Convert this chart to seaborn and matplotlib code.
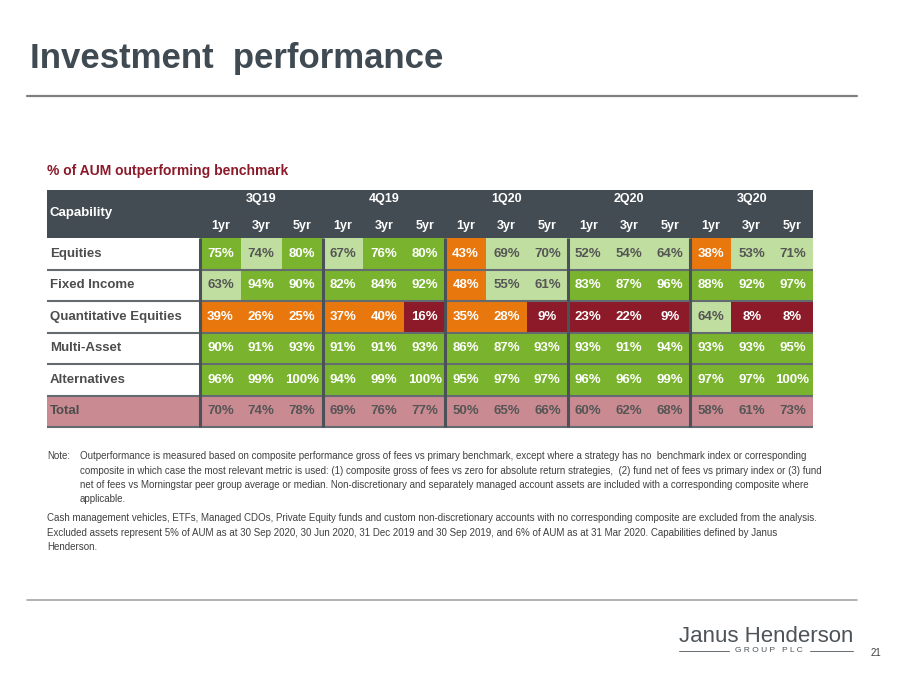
import numpy as np
import pandas as pd
import seaborn as sns
import matplotlib.pyplot as plt
from matplotlib.colors import ListedColormap
from matplotlib.patches import Rectangle

# data
quarters = ["3Q19", "4Q19", "1Q20", "2Q20", "3Q20"]
horizons = ["1yr", "3yr", "5yr"]
capabilities = ["Equities", "Fixed Income", "Quantitative Equities",
                "Multi-Asset", "Alternatives", "Total"]

equities = [75, 74, 80, 67, 76, 80, 43, 69, 70, 52, 54, 64, 38, 53, 71]
fixed_income = [63, 94, 90, 82, 84, 92, 48, 55, 61, 83, 87, 96, 88, 92, 97]
quant_equities = [39, 26, 25, 37, 40, 16, 35, 28, 9, 23, 22, 9, 64, 8, 8]
multi_asset = [90, 91, 93, 91, 91, 93, 86, 87, 93, 93, 91, 94, 93, 93, 95]
alternatives = [96, 99, 100, 94, 99, 100, 95, 97, 97, 96, 96, 99, 97, 97, 100]
total = [70, 74, 78, 69, 76, 77, 50, 65, 66, 60, 62, 68, 58, 61, 73]

RED, ORANGE, LIGHT, GREEN, PINK = "#8c1a28", "#e8770e", "#c0dea0", "#7ab42e", "#c98a92"
SLATE = "#434c53"
TXT = "#4d4d4d"

cols = pd.MultiIndex.from_product([quarters, horizons])
values = pd.DataFrame([equities, fixed_income, quant_equities, multi_asset,
                       alternatives, total], index=capabilities, columns=cols)


def band(v):
    if v < 25:
        return 0
    if v < 50:
        return 1
    if v < 75:
        return 2
    return 3


codes = values.apply(lambda c: c.map(band))
codes.loc["Total"] = 4
labels = values.astype(int).astype(str) + "%"

sns.set_theme(style="white")
plt.rcParams["font.family"] = ["Liberation Sans", "DejaVu Sans"]

W, H = 900, 675
fig = plt.figure(figsize=(9, 6.75), dpi=100)

# table geometry in pixels
x0, x1 = 47, 200          # capability column
x2 = 813                  # right edge of table
hy0, hy1 = 190, 238       # header
row_h = 31.5
y_bot = hy1 + row_h * len(capabilities)

ax = fig.add_axes([x1 / W, 1 - y_bot / H, (x2 - x1) / W, (y_bot - hy1) / H])
cmap = ListedColormap([RED, ORANGE, LIGHT, GREEN, PINK])
sns.heatmap(codes.values, ax=ax, cmap=cmap, vmin=-0.5, vmax=4.5, cbar=False,
            annot=labels.values, fmt="",
            annot_kws={"fontsize": 9.5, "fontweight": "bold"})
for t, c in zip(ax.texts, codes.values.ravel()):
    t.set_color("white" if c in (0, 1, 3) else "#555555")
ax.set_xticks([])
ax.set_yticks([])

# overlay in pixel coordinates
ov = fig.add_axes([0, 0, 1, 1], zorder=5)
ov.set_xlim(0, W)
ov.set_ylim(H, 0)
ov.axis("off")
ov.patch.set_visible(False)

# title and rules
ov.text(30, 68, "Investment  performance", fontsize=25, fontweight="bold",
        color="#3f4a52", va="baseline")
ov.plot([27, 857], [96, 96], color="#7f7f7f", lw=1.6)
ov.plot([27, 857], [600, 600], color="#a6a6a6", lw=1.2)
ov.text(47, 171, "% of AUM outperforming benchmark", fontsize=10,
        fontweight="bold", color="#8b1a2a", va="center")

# header block
ov.add_patch(Rectangle((x0, hy0), x2 - x0, hy1 - hy0, color=SLATE, lw=0))
ov.text(x0 + 3, 213, "Capability", fontsize=9.5, fontweight="bold",
        color="white", va="center")
cw = (x2 - x1) / len(cols)
for qi, q in enumerate(quarters):
    ov.text(x1 + cw * (3 * qi + 1.5), 199, q, fontsize=9, fontweight="bold",
            color="white", ha="center", va="center")
    for hi, h in enumerate(horizons):
        ov.text(x1 + cw * (3 * qi + hi + 0.5), 226, h, fontsize=9,
                fontweight="bold", color="white", ha="center", va="center")

# capability column
for i, name in enumerate(capabilities):
    top = hy1 + row_h * i
    fc = PINK if name == "Total" else "white"
    ov.add_patch(Rectangle((x0, top), x1 - x0, row_h, color=fc, lw=0))
    ov.text(x0 + 3, top + row_h / 2, name, fontsize=9.5, fontweight="bold",
            color=TXT, va="center")

# grid lines
for i in range(1, len(capabilities) + 1):
    y = hy1 + row_h * i
    ov.plot([x0, x2], [y, y], color="#646b70", lw=1.5, solid_capstyle="butt")
for qi in range(len(quarters)):
    x = x1 + cw * 3 * qi
    ov.plot([x, x], [hy1, y_bot], color="#4a5258", lw=2.2, solid_capstyle="butt")

# notes
note_kw = dict(fontsize=7, color="#404040", va="baseline")
ov.text(47, 459, "Note:", **note_kw)
note_lines = [
    "Outperformance is measured based on composite performance gross of fees vs primary benchmark, except where a strategy has no  benchmark index or corresponding",
    "composite in which case the most relevant metric is used: (1) composite gross of fees vs zero for absolute return strategies,  (2) fund net of fees vs primary index or (3) fund",
    "net of fees vs Morningstar peer group average or median. Non-discretionary and separately managed account assets are included with a corresponding composite where",
    "applicable.",
]
for i, line in enumerate(note_lines):
    ov.text(80, 459 + 14.5 * i, line, **note_kw)
cash_lines = [
    "Cash management vehicles, ETFs, Managed CDOs, Private Equity funds and custom non-discretionary accounts with no corresponding composite are excluded from the analysis.",
    "Excluded assets represent 5% of AUM as at 30 Sep 2020, 30 Jun 2020, 31 Dec 2019 and 30 Sep 2019, and 6% of AUM as at 31 Mar 2020. Capabilities defined by Janus",
    "Henderson.",
]
for i, line in enumerate(cash_lines):
    ov.text(47, 521 + 14.5 * i, line, **note_kw)

# logo and page number
ov.text(766, 642, "Janus Henderson", fontsize=16, color="#4d5358",
        ha="center", va="baseline")
ov.text(769, 651, "G R O U P   P L C", fontsize=6, color="#4d5358",
        ha="center", va="center")
ov.plot([679, 729], [651, 651], color="#4d5358", lw=0.6)
ov.plot([810, 853], [651, 651], color="#4d5358", lw=0.6)
ov.text(876, 656, "21", fontsize=7, color="#404040", ha="center", va="baseline")

fig.savefig("out.png", dpi=100)
